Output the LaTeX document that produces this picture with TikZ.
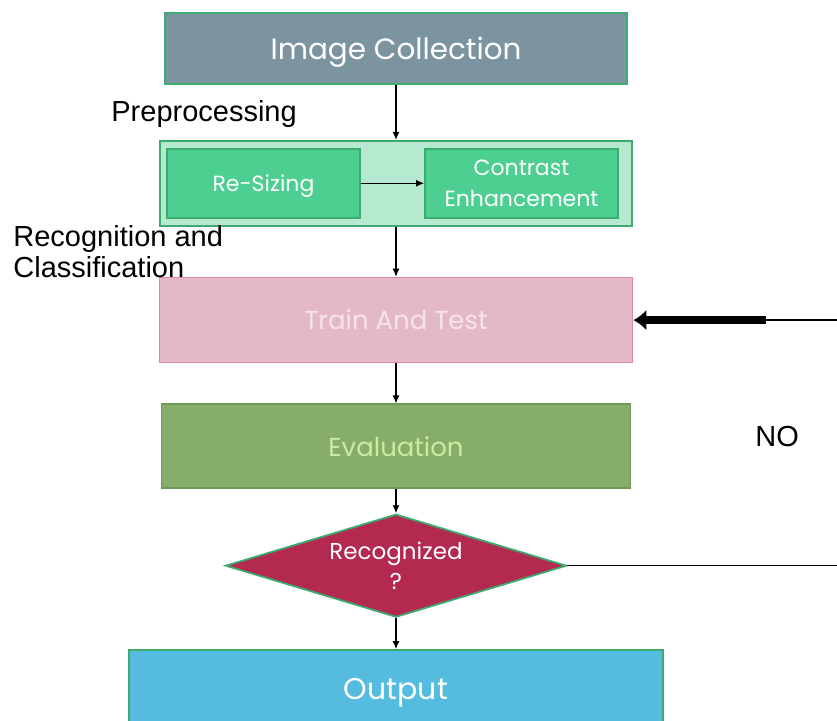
\documentclass[tikz,border=0pt]{standalone}
\usepackage{fontspec}
\setmainfont{Liberation Sans}
\newfontfamily\boxfont{Poppins}
\usetikzlibrary{shapes.geometric,arrows.meta,positioning}
\definecolor{edgegreen}{RGB}{61,170,110}
\definecolor{slate}{RGB}{124,148,160}
\definecolor{mint}{RGB}{181,234,209}
\definecolor{jade}{RGB}{77,207,145}
\definecolor{rose}{RGB}{227,185,199}
\definecolor{roseedge}{RGB}{214,140,170}
\definecolor{rosetext}{RGB}{247,228,235}
\definecolor{olive}{RGB}{134,174,106}
\definecolor{oliveedge}{RGB}{112,152,88}
\definecolor{olivetext}{RGB}{203,236,160}
\definecolor{berry}{RGB}{179,41,80}
\definecolor{sky}{RGB}{85,187,223}

\begin{document}
\begin{tikzpicture}[x=0.5pt,y=-0.5pt]
\tikzset{box/.style={draw=edgegreen,line width=0.9pt,minimum width=231pt,minimum height=42.5pt,align=center,text=white,font=\boxfont\fontsize{14.7}{16}\selectfont},
  inbox/.style={box,minimum width=96.5pt,minimum height=34.5pt,fill=jade,text depth=0pt,font=\boxfont\fontsize{11}{15.5}\selectfont},
  lbl/.style={inner sep=0pt,anchor=west,align=left,font=\fontsize{14.5}{15.5}\selectfont},
  arr/.style={-{Latex[length=4pt,width=3.5pt]},black,line width=0.6pt}}
\useasboundingbox (0,0) rectangle (837,721);
\node[box,fill=slate,minimum height=35.5pt,text depth=0pt] (img) at (396,48.5) {Image Collection};
\node[box,fill=mint,minimum width=236pt,below=27.5pt of img] (pre) {};
\node[inbox,right=3.5pt of pre.west] (resize) {Re-Sizing};
\node[inbox,left=7pt of pre.east] (contrast) {Contrast\\Enhancement};
\node[box,fill=rose,draw=roseedge,text=rosetext,minimum width=236.5pt,font=\boxfont\fontsize{13}{15}\selectfont,below=25pt of pre] (train) {Train And Test};
\node[box,fill=olive,draw=oliveedge,text=olivetext,minimum width=234.5pt,minimum height=42pt,font=\boxfont\fontsize{13}{15}\selectfont,below=20pt of train] (eval) {Evaluation};
\node[diamond,aspect=3.3,draw=edgegreen,line width=0.9pt,fill=berry,text=white,inner sep=0pt,minimum width=170.5pt,minimum height=51.5pt,align=center,font=\boxfont\fontsize{11.5}{15}\selectfont,below=12pt of eval] (recog) {Recognized\\?};
\node[box,fill=sky,minimum width=267pt,font=\boxfont\fontsize{15}{16}\selectfont,below=15.5pt of recog] (out) {Output};
\node[lbl] (prelbl) at (111,114) {Preprocessing};
\node[lbl] (reclbl) at (13,252) {Recognition and\\Classification};
\node[lbl] (nolbl) at (755,437) {NO};
\path (recog.east) ++(290,0) coordinate (loopA);
\coordinate (loopB) at (loopA |- train.east);
\path (train.east) ++(133,0) coordinate (tail);
\draw[arr] (img) -- (pre);
\draw[arr] (resize) -- (contrast);
\draw[arr] (pre) -- (train);
\draw[arr] (train) -- (eval);
\draw[arr] (eval) -- (recog);
\draw[arr] (recog) -- (out);
\draw[line width=0.6pt] (recog.east) -- (loopA) -- (loopB) -- (tail);
\draw[-{Latex[length=6.5pt,width=10.5pt]},line width=4pt] (tail) -- (train.east);
\end{tikzpicture}
\end{document}
